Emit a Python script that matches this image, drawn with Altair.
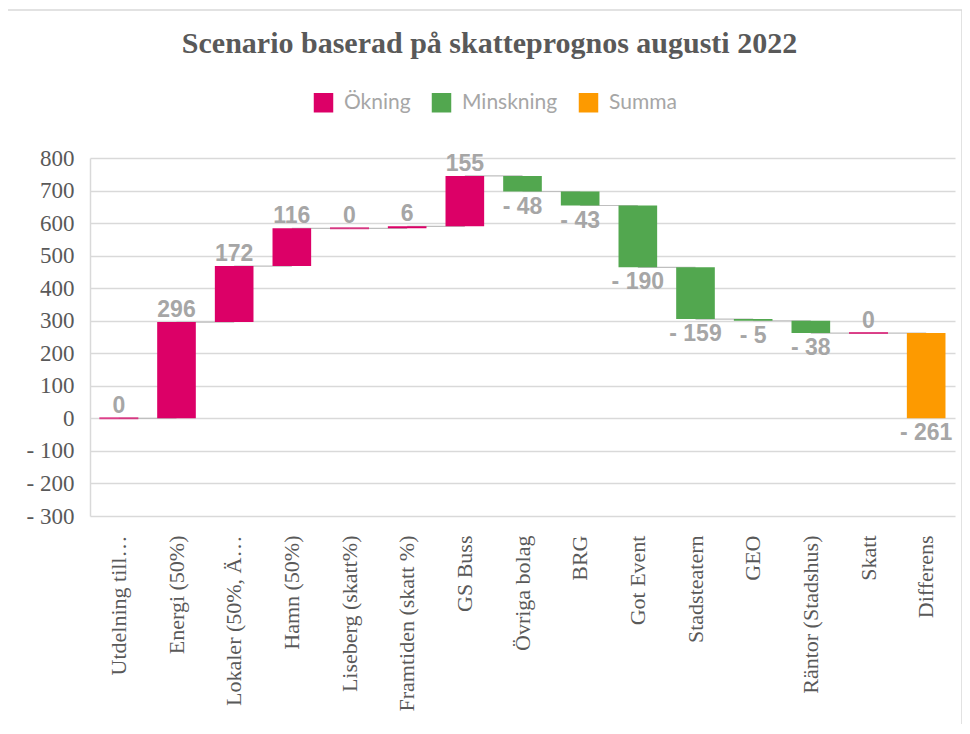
import altair as alt
import pandas as pd

categories = ["Utdelning till…", "Energi (50%)", "Lokaler (50%, Ä…", "Hamn (50%)",
              "Liseberg (skatt%)", "Framtiden (skatt %)", "GS Buss", "Övriga bolag",
              "BRG", "Got Event", "Stadsteatern", "GEO", "Räntor (Stadshus)", "Skatt",
              "Differens"]
values = [0, 296, 172, 116, 0, 6, 155, -48, -43, -190, -159, -5, -38, 0, -261]
kinds = ["Ökning", "Ökning", "Ökning", "Ökning", "Ökning", "Ökning", "Ökning",
         "Minskning", "Minskning", "Minskning", "Minskning", "Minskning", "Minskning",
         "Ökning", "Summa"]
legend_order = ["Ökning", "Minskning", "Summa"]
legend_colors = ["#DC0067", "#52A74F", "#FD9A00"]
y_ticks = [-300, -200, -100, 0, 100, 200, 300, 400, 500, 600, 700, 800]

rows = []
running = 0
for i, (c, v, k) in enumerate(zip(categories, values, kinds)):
    if k == "Summa":
        start, end = 0, running
    else:
        start, end = running, running + v
        running = end
    label = f"- {abs(v)}" if v < 0 else f"{v}"
    if k == "Summa":
        lab_y, pos = start, "down"
    elif v < 0:
        lab_y, pos = end, "down"
    else:
        lab_y, pos = end, "up"
    nxt = categories[i + 1] if i + 1 < len(categories) else None
    rows.append(dict(cat=c, value=v, kind=k, start=start, end=end, label=label,
                     lab_y=lab_y, pos=pos, next=nxt, zero=(v == 0)))
df = pd.DataFrame(rows)

xscale = alt.Scale(paddingInner=0.33, paddingOuter=0.165)
xenc = alt.X("cat:N", sort=categories, scale=xscale, title=None,
             axis=alt.Axis(labelAngle=-90, labelFont="Liberation Serif", labelFontSize=22,
                           labelColor="#595959", ticks=False, domain=False, labelPadding=19,
                           labelLimit=300, grid=False))
yscale = alt.Scale(domain=[-300, 800], nice=False, zero=False)
yaxis = alt.Axis(values=y_ticks, labelFont="Liberation Serif", labelFontSize=23,
                 labelColor="#595959", ticks=False, domain=True, domainColor="#D9D9D9",
                 domainWidth=1.5, gridColor="#D9D9D9", gridWidth=1.5, labelPadding=16,
                 labelOverlap=False,
                 labelExpr="datum.value < 0 ? '- ' + abs(datum.value) : '' + datum.value",
                 title=None)
color_scale = alt.Scale(domain=legend_order, range=legend_colors)
color = alt.Color("kind:N", scale=color_scale,
                  legend=alt.Legend(orient="none", legendX=223, legendY=-66,
                                    direction="horizontal", title=None,
                                    symbolType="square", symbolSize=380,
                                    symbolStrokeWidth=0, labelFont="Lato",
                                    labelFontSize=21, labelColor="#A6A6A6",
                                    labelOffset=10, columnPadding=20, padding=0))


def yenc(field):
    return alt.Y(field, scale=yscale, axis=yaxis)


base = alt.Chart(df)

frame = alt.Chart(pd.DataFrame({"a": [0]})).mark_rect(
    fill="transparent", stroke="#D9D9D9", strokeWidth=1.5
).encode(x=alt.value(-85), x2=alt.value(872), y=alt.value(-148), y2=alt.value(640))

connectors = base.transform_filter("datum.next != null").mark_rule(
    color="#BFBFBF", strokeWidth=1.2
).encode(x=xenc, x2="next:N", y=yenc("end:Q"))

bars = base.mark_bar().encode(
    x=xenc, y=yenc("start:Q"), y2="end:Q", color=color)

zero_ticks = base.transform_filter("datum.zero").mark_tick(
    thickness=2, size=39, orient="horizontal"
).encode(x=xenc, y=yenc("end:Q"), color=alt.Color("kind:N", scale=color_scale, legend=None))

lab_style = dict(font="Liberation Sans", fontSize=23, fontWeight="bold", color="#A6A6A6")
labels_up = base.transform_filter("datum.pos == 'up'").mark_text(
    baseline="alphabetic", dy=-5, **lab_style
).encode(x=xenc, y=yenc("lab_y:Q"), text="label:N")
labels_down = base.transform_filter("datum.pos == 'down'").mark_text(
    baseline="top", dy=4, **lab_style
).encode(x=xenc, y=yenc("lab_y:Q"), text="label:N")

chart = alt.layer(frame, connectors, bars, zero_ticks, labels_up, labels_down).properties(
    width=865, height=358,
    title=alt.TitleParams("Scenario baserad på skatteprognos augusti 2022",
                          font="Liberation Serif", fontSize=30, fontWeight="bold",
                          color="#595959", anchor="middle", dx=-33, offset=-50),
    autosize=alt.AutoSizeParams(type="none"),
    padding={"left": 82, "top": 150, "right": 7, "bottom": 208},
).configure_view(stroke=None).configure_axisY(
    labelFont="Liberation Serif", labelFontSize=23, labelColor="#595959"
).configure_axisX(labelFont="Liberation Serif")

chart.save("out.html", embed_options={"renderer": "svg", "actions": False})
